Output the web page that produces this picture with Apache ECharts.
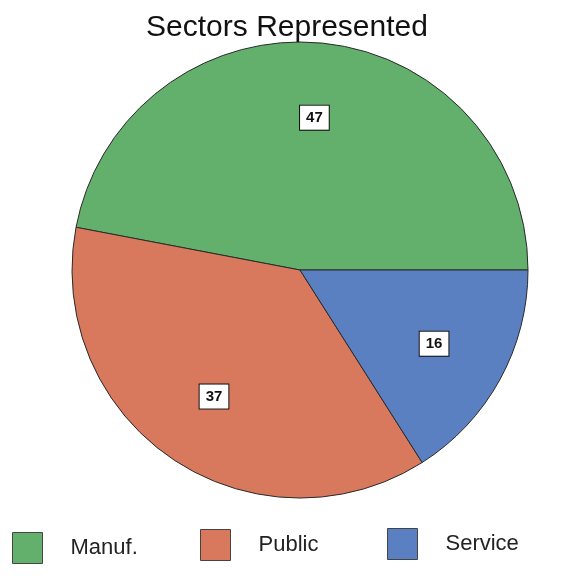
<!DOCTYPE html>
<html>
<head>
<meta charset="utf-8">
<script src="https://cdn.jsdelivr.net/npm/echarts@6/dist/echarts.min.js"></script>
<style>
  html, body { margin: 0; padding: 0; background: #fff; }
  #chart { width: 574px; height: 578px; }
</style>
</head>
<body>
<div id="chart"></div>
<script>
// Sector breakdown
const sectors = ['Manuf.', 'Public', 'Service'];
const counts = [47, 37, 16];
const sectorColors = ['#62b06c', '#d8785c', '#5b80c2'];

const chart = echarts.init(document.getElementById('chart'));

const pieData = sectors.map((name, i) => ({
  name: name,
  value: counts[i],
  itemStyle: { color: sectorColors[i] }
}));

// Invisible overlay pie: its "inside" labels sit at half of its radius,
// which places the value boxes about two thirds of the way out on the real pie.
const labelData = sectors.map((name, i) => ({
  name: name,
  value: counts[i],
  itemStyle: { color: 'rgba(0,0,0,0)' }
}));

const legendPos = [
  { left: 12, top: 532 },
  { left: 200, top: 529 },
  { left: 387, top: 528 }
];

chart.setOption({
  animation: false,
  backgroundColor: '#ffffff',
  title: {
    text: 'Sectors Represented',
    left: 'center',
    top: 8,
    textStyle: {
      fontFamily: 'Liberation Sans',
      fontSize: 30,
      fontWeight: 'normal',
      color: '#111'
    }
  },
  legend: sectors.map((name, i) => ({
    data: [name],
    left: legendPos[i].left,
    top: legendPos[i].top,
    padding: 0,
    orient: 'horizontal',
    icon: 'rect',
    itemWidth: 30,
    itemHeight: 31,
    selectedMode: false,
    itemStyle: { borderColor: '#444', borderWidth: 1 },
    textStyle: {
      fontFamily: 'Liberation Sans',
      fontSize: 22,
      color: '#222',
      padding: [0, 0, 0, 23]
    }
  })),
  series: [
    {
      type: 'pie',
      center: [300, 270],
      radius: 228,
      startAngle: 0,
      clockwise: false,
      silent: true,
      itemStyle: { borderColor: '#2a2a2a', borderWidth: 1 },
      label: { show: false },
      labelLine: { show: false },
      data: pieData
    },
    {
      type: 'pie',
      center: [300, 270],
      radius: 300,
      startAngle: 0,
      clockwise: false,
      silent: true,
      legendHoverLink: false,
      tooltip: { show: false },
      label: {
        show: true,
        position: 'inside',
        formatter: '{c}',
        fontFamily: 'Liberation Sans',
        fontSize: 15,
        fontWeight: 'bold',
        color: '#111',
        backgroundColor: '#ffffff',
        borderColor: '#111',
        borderWidth: 1,
        padding: [5, 6, 4, 6]
      },
      labelLine: { show: false },
      data: labelData
    }
  ]
});
</script>
</body>
</html>
